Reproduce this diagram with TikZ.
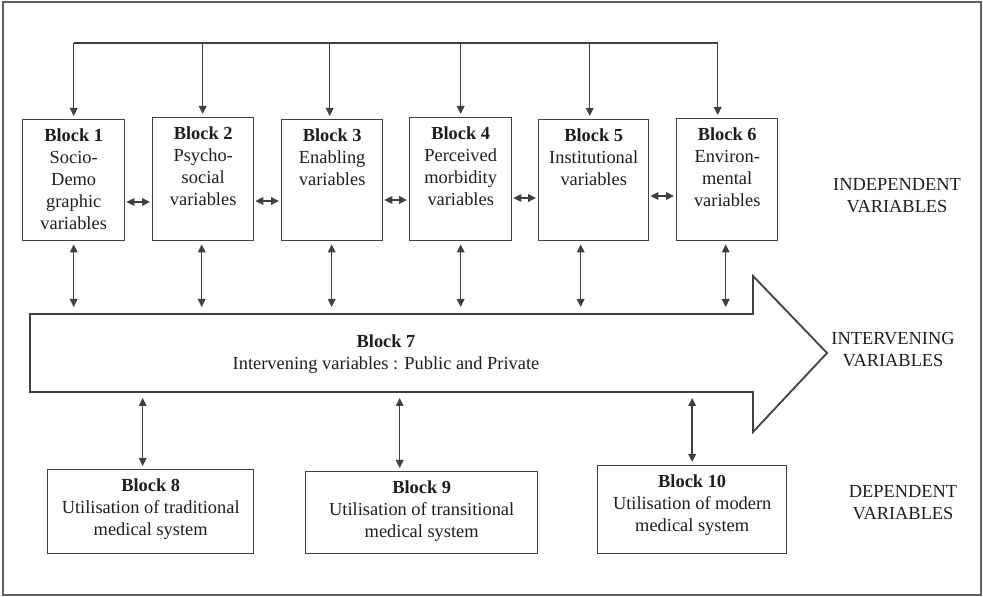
\documentclass[tikz,border=0pt]{standalone}
\usepackage{fontspec}
\setmainfont{Liberation Serif}
\usetikzlibrary{arrows.meta,calc}
\definecolor{linec}{HTML}{404040}
\definecolor{textc}{HTML}{1E1E1E}
\definecolor{framec}{HTML}{606060}
\newcommand\blkbox[3]{\parbox[c][#2][t]{#1}{\centering\rule{0pt}{11pt}#3}}
\tikzset{
  blk/.style={draw=linec, line width=0.7pt, inner sep=0pt, anchor=north west},
  conn/.style={draw=linec, line width=0.75pt},
  tip/.style={-{Triangle[length=4pt,width=3.8pt]}},
  dtip/.style={{Triangle[length=4pt,width=3.8pt]}-{Triangle[length=4pt,width=3.8pt]}},
  lab/.style={align=center, text=textc}
}
\begin{document}
\begin{tikzpicture}[x=0.5pt,y=-0.5pt, every node/.append style={font=\fontsize{9.2}{11}\selectfont, text=textc}]
\useasboundingbox (0,0) rectangle (983,597);
\draw[framec, line width=1pt] (3,2) rectangle (981,595);

% top blocks
\node[blk] (b1) at (22,119) {\blkbox{51pt}{60.5pt}{\textbf{Block 1}\\Socio-\\Demo\\graphic\\variables}};
\node[blk] (b2) at (152,117) {\blkbox{50.5pt}{61.5pt}{\textbf{Block 2}\\Psycho-\\social\\variables}};
\node[blk] (b3) at (281,119) {\blkbox{50.5pt}{60.5pt}{\textbf{Block 3}\\Enabling\\variables}};
\node[blk] (b4) at (409,117) {\blkbox{51pt}{61.5pt}{\textbf{Block 4}\\Perceived\\morbidity\\variables}};
\node[blk] (b5) at (538,119) {\blkbox{55pt}{60.5pt}{\textbf{Block 5}\\Institutional\\variables}};
\node[blk] (b6) at (676,118) {\blkbox{50.5pt}{61pt}{\textbf{Block 6}\\Environ-\\mental\\variables}};

% bottom blocks
\node[blk] (b8) at (47,469) {\blkbox{103pt}{42pt}{\textbf{Block 8}\\Utilisation of traditional\\medical system}};
\node[blk] (b9) at (305,471) {\blkbox{116pt}{41pt}{\textbf{Block 9}\\Utilisation of transitional\\medical system}};
\node[blk] (b10) at (597,465) {\blkbox{94.5pt}{44pt}{\textbf{Block 10}\\Utilisation of modern\\medical system}};

% big arrow (block 7)
\draw[linec, line width=0.9pt] (30,314) coordinate (shaft) -- (753,314) -- (753,276) -- (827,353) -- (753,432) -- (753,392) coordinate (shaftb) -- (30,392) -- cycle;
\node[align=center] (b7) at (386,354) {\textbf{Block 7}\\Intervening variables : Public and Private};

% right labels
\node[lab] (lind) at (897,196) {INDEPENDENT\\VARIABLES};
\node[lab] (lint) at (893,350) {INTERVENING\\VARIABLES};
\node[lab] (ldep) at (903,503) {DEPENDENT\\VARIABLES};

% top bus
\coordinate (bus) at (73,43);
\coordinate (t1) at (b1.north);
\coordinate (t2) at ([xshift=-0.25pt]b2.north);
\coordinate (t3) at ([xshift=-1.25pt]b3.north);
\coordinate (t4) at (b4.north);
\coordinate (t5) at ([xshift=-2pt]b5.north);
\coordinate (t6) at ([xshift=-4.75pt]b6.north);
\draw[conn] (t1 |- bus) -- (t6 |- bus);
\foreach \i in {1,...,6}{
  \draw[conn, tip, shorten >=1.5pt] (t\i |- bus) -- (t\i);
}

% block -> block 7
\coordinate (s1) at (b1.south);
\coordinate (s2) at ([xshift=-0.75pt]b2.south);
\coordinate (s3) at ([xshift=-0.25pt]b3.south);
\coordinate (s4) at (b4.south);
\coordinate (s5) at ([xshift=-6.5pt]b5.south);
\coordinate (s6) at ([xshift=-0.75pt]b6.south);
\foreach \i in {1,...,6}{
  \draw[conn, dtip, shorten <=1.5pt, shorten >=3.5pt] (s\i) -- (s\i |- shaft);
}

% horizontal links
\coordinate (h1) at (0,202);
\coordinate (h2) at (0,201);
\coordinate (h3) at (0,200);
\coordinate (h4) at (0,198);
\coordinate (h5) at (0,196);
\draw[conn, dtip, shorten <=0.5pt, shorten >=1pt] (b1.east |- h1) -- (b2.west |- h1);
\draw[conn, dtip, shorten <=0.5pt, shorten >=1pt] (b2.east |- h2) -- (b3.west |- h2);
\draw[conn, dtip, shorten <=0.5pt, shorten >=1pt] (b3.east |- h3) -- (b4.west |- h3);
\draw[conn, dtip, shorten <=0.5pt, shorten >=1pt] (b4.east |- h4) -- (b5.west |- h4);
\draw[conn, dtip, shorten <=0.5pt, shorten >=1pt] (b5.east |- h5) -- (b6.west |- h5);

% block 7 -> bottom blocks
\coordinate (u8) at ([xshift=-4pt]b8.north);
\coordinate (u9) at ([xshift=-11pt]b9.north);
\coordinate (u10) at (b10.north);
\foreach \i in {8,9,10}{
  \draw[conn, dtip, shorten <=3pt, shorten >=1.5pt] (u\i |- shaftb) -- (u\i);
}
\end{tikzpicture}
\end{document}
